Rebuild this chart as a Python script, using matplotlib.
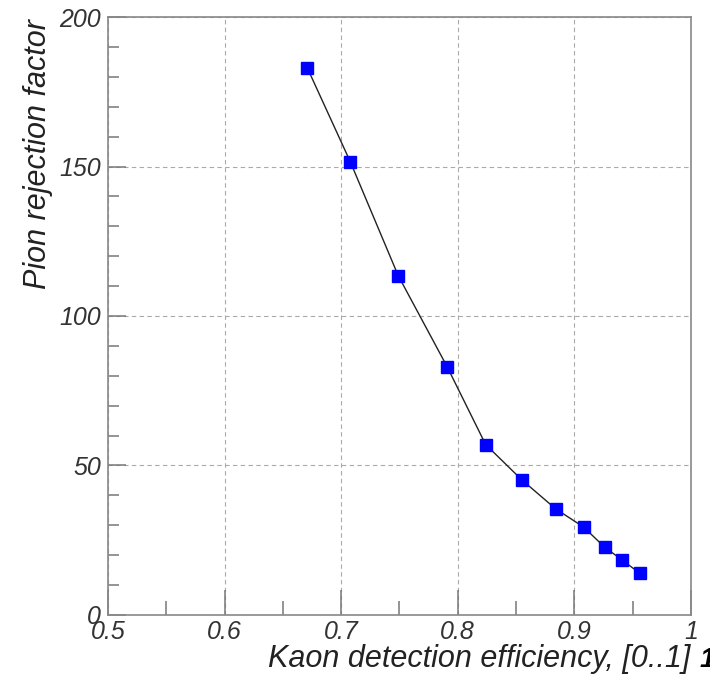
import numpy as np
import matplotlib
matplotlib.use('Agg')
import matplotlib.pyplot as plt
from matplotlib.ticker import MultipleLocator

# kaon efficiency vs pion rejection
efficiency = [0.671, 0.708, 0.749, 0.791, 0.824, 0.855, 0.884, 0.908, 0.926, 0.941, 0.956]
rejection = [183.0, 151.5, 113.5, 83.0, 57.0, 45.2, 35.5, 29.4, 22.7, 18.4, 14.0]

plt.rcParams['font.family'] = ['Liberation Sans', 'DejaVu Sans']

fig = plt.figure(figsize=(7.1, 6.81), dpi=100)
ax = fig.add_axes([0.152, 0.097, 0.821, 0.878])

ax.plot(efficiency, rejection, color='#222222', linewidth=1.0, zorder=2)
ax.plot(efficiency, rejection, linestyle='none', marker='s', markersize=9,
        color='#0000ff', markeredgecolor='#0000ff', zorder=3)

ax.set_xlim(0.5, 1.0)
ax.set_ylim(0, 200)
ax.xaxis.set_minor_locator(MultipleLocator(0.05))
ax.yaxis.set_major_locator(MultipleLocator(50))
ax.yaxis.set_minor_locator(MultipleLocator(10))
ax.set_xticks([0.5, 0.6, 0.7, 0.8, 0.9, 1.0])
ax.set_xticklabels(['0.5', '0.6', '0.7', '0.8', '0.9', '1'])

ax.grid(True, which='major', linestyle=(0, (4, 3)), color='#aaaaaa', linewidth=0.8)
ax.set_axisbelow(True)

for s in ax.spines.values():
    s.set_color('#888888')
    s.set_linewidth(1.2)

ax.tick_params(which='both', direction='in', top=False, right=False,
               color='#777777', labelcolor='#333333', labelsize=18, width=1.1)
ax.tick_params(axis='x', which='major', length=18, pad=4)
ax.tick_params(axis='x', which='minor', length=10)
ax.tick_params(axis='y', which='major', length=13, pad=5)
ax.tick_params(axis='y', which='minor', length=8)
for lab in ax.get_xticklabels() + ax.get_yticklabels():
    lab.set_style('italic')

ax.set_xlabel('Kaon detection efficiency, [0..1]', fontsize=22, style='italic',
              color='#222222', loc='right', labelpad=0)
ax.set_ylabel('Pion rejection factor', fontsize=22, style='italic',
              color='#222222', labelpad=4)
ax.yaxis.set_label_coords(-0.095, 0.77)

fig.text(0.985, 0.012, '1', fontsize=20, fontweight='bold', style='italic',
         color='black', ha='left', va='bottom')

fig.savefig('out.png', dpi=100)
